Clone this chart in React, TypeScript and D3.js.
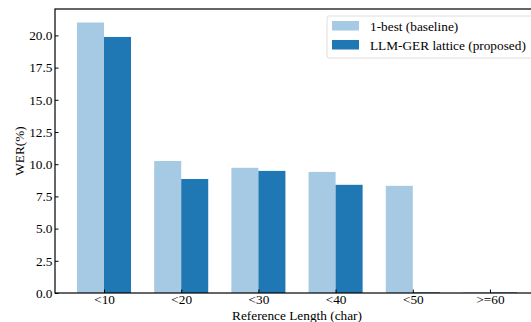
import { useEffect, useRef } from "react";
import * as d3 from "d3";

const categories = ["<10", "<20", "<30", "<40", "<50", ">=60"];
const baseline = [21.0, 10.25, 9.72, 9.4, 8.32, 0.05];
const proposed = [19.88, 8.85, 9.48, 8.4, 0.05, 0.05];
const seriesNames = ["1-best (baseline)", "LLM-GER lattice (proposed)"];
const yTicks = [0, 2.5, 5, 7.5, 10, 12.5, 15, 17.5, 20];

const W = 531;
const H = 322;
const FONT = "Liberation Serif, Times New Roman, serif";
const FS = 13.3;

export default function App() {
  const svgRef = useRef<SVGSVGElement | null>(null);

  useEffect(() => {
    const svg = d3.select(svgRef.current);
    svg.selectAll("*").remove();

    const left = 55, top = 9, bottom = 293, right = 539;
    const barW = 0.35;

    const x = d3.scaleLinear().domain([-0.635, 5.635]).range([left, right]);
    const y = d3.scaleLinear().domain([0, 22.05]).range([bottom, top]);

    const colors = ["#a6cae3", "#1f78b4"];
    const series = [baseline, proposed];

    // bars
    series.forEach((vals, si) => {
      svg.append("g")
        .selectAll("rect")
        .data(vals)
        .join("rect")
        .attr("x", (d, i) => x(i + (si === 0 ? -barW : 0)))
        .attr("width", x(barW) - x(0))
        .attr("y", (d) => y(d))
        .attr("height", (d) => y(0) - y(d))
        .attr("fill", colors[si]);
    });

    // frame
    svg.append("rect")
      .attr("x", left).attr("y", top)
      .attr("width", right - left).attr("height", bottom - top)
      .attr("fill", "none").attr("stroke", "#000").attr("stroke-width", 1.2);

    // y axis
    const gy = svg.append("g")
      .attr("transform", `translate(${left},0)`)
      .call(d3.axisLeft(y).tickValues(yTicks).tickFormat(d3.format(".1f")).tickSizeInner(-3.5).tickSizeOuter(0).tickPadding(2.5));
    gy.select(".domain").remove();
    gy.selectAll("text").attr("font-family", FONT).attr("font-size", FS).attr("fill", "#000");

    // x axis
    const gx = svg.append("g")
      .attr("transform", `translate(0,${bottom})`)
      .call(d3.axisBottom(x).tickValues(d3.range(categories.length)).tickFormat((d: any) => categories[d]).tickSizeInner(-3.5).tickSizeOuter(0).tickPadding(2));
    gx.select(".domain").remove();
    gx.selectAll("text").attr("font-family", FONT).attr("font-size", FS).attr("fill", "#000");

    // axis labels
    svg.append("text")
      .attr("x", (left + right) / 2).attr("y", 320)
      .attr("text-anchor", "middle")
      .attr("font-family", FONT).attr("font-size", FS)
      .text("Reference Length (char)");
    svg.append("text")
      .attr("transform", `translate(24,${(top + bottom) / 2}) rotate(-90)`)
      .attr("text-anchor", "middle")
      .attr("font-family", FONT).attr("font-size", FS)
      .text("WER(%)");

    // legend
    const lg = svg.append("g").attr("transform", "translate(327,16)");
    lg.append("rect")
      .attr("width", 220).attr("height", 42).attr("rx", 2)
      .attr("fill", "#fff").attr("fill-opacity", 0.8)
      .attr("stroke", "#d6d6d6").attr("stroke-width", 0.8);
    seriesNames.forEach((name, i) => {
      lg.append("rect")
        .attr("x", 5).attr("y", 5 + i * 19)
        .attr("width", 27).attr("height", 9.5)
        .attr("fill", colors[i]);
      lg.append("text")
        .attr("x", 43).attr("y", 14.5 + i * 19)
        .attr("font-family", FONT).attr("font-size", FS)
        .text(name);
    });
  }, []);

  return (
    <svg ref={svgRef} width={W} height={H}
      style={{ position: "absolute", left: 0, top: 0, background: "#fff" }} />
  );
}
